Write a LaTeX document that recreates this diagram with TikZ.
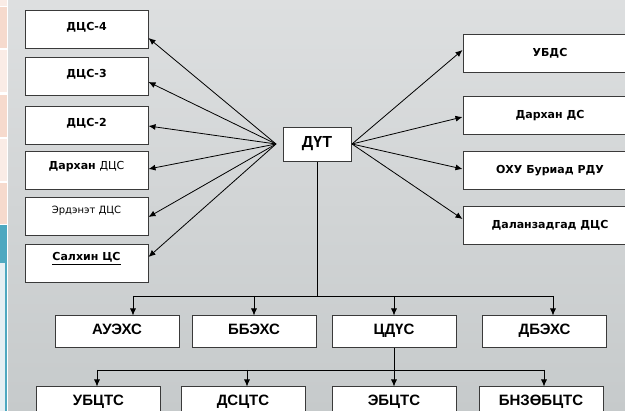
\documentclass[tikz,border=0pt]{standalone}
\usepackage{fontspec}
\setmainfont{DejaVu Sans}
\newfontfamily\arialf{Liberation Sans}
\usetikzlibrary{arrows.meta}
\definecolor{bgtop}{HTML}{DDDFE0}
\definecolor{bgbot}{HTML}{C6CACB}
\definecolor{pinkA}{HTML}{F6DACD}
\definecolor{pinkB}{HTML}{FAECE6}
\definecolor{tealA}{HTML}{4EA8C0}
\definecolor{blueL}{HTML}{E5EFF3}
\definecolor{boxline}{HTML}{3A3A3A}
\tikzset{
  box/.style={draw=boxline, line width=1pt, fill=white, inner sep=0pt,
    text height=9pt, text depth=3pt, align=center},
  lbox/.style={box, minimum width=123pt, minimum height=38pt, font=\fontsize{11}{13}\selectfont\bfseries},
  rbox/.style={box, minimum width=174pt, minimum height=38pt, font=\fontsize{11}{13}\selectfont\bfseries},
  sbox/.style={box, minimum width=124pt, minimum height=32pt, font=\arialf\fontsize{15}{17}\selectfont\bfseries},
  arr/.style={draw=black, line width=0.8pt, -{Latex[length=7pt,width=6pt]}},
  ln/.style={draw=black, line width=0.8pt}
}
\begin{document}
\begin{tikzpicture}[x=1pt,y=-1pt]
\useasboundingbox (0,0) rectangle (625,411);
\clip (0,0) rectangle (625,411);
% background
\shade[top color=bgtop, bottom color=bgbot] (0,0) rectangle (625,411);
\fill[white] (0,0) rectangle (8,411);
\fill[pinkB] (0,0) rectangle (7,6);
\fill[pinkA] (0,7) rectangle (7,48);
\fill[pinkB] (0,50) rectangle (7,92);
\fill[pinkA] (0,95) rectangle (7,137);
\fill[pinkB] (0,139) rectangle (7,181);
\fill[pinkA] (0,183) rectangle (7,224);
\fill[tealA] (0,225) rectangle (7,263);
\fill[blueL] (0,263) rectangle (5,411);
\fill[tealA] (5,263) rectangle (7,411);

% centre
\node[box, minimum width=68pt, minimum height=34pt, font=\arialf\fontsize{16}{18}\selectfont\bfseries] (dut) at (317,145) {ДҮТ};
\coordinate (hl) at (276,144);
\coordinate (hr) at (352,144);

% left boxes
\node[lbox] (d4) at (86.5,30) {\raisebox{2pt}{ДЦС-4}};
\node[lbox] (d3) at (86.5,76.5) {\raisebox{1.5pt}{ДЦС-3}};
\node[lbox] (d2) at (86.5,126) {\raisebox{2pt}{ДЦС-2}};
\node[lbox] (dk) at (86.5,171) {\raisebox{4pt}{Дархан \mdseries ДЦС}};
\node[lbox, font=\fontsize{10}{12}\selectfont] (er) at (86.5,217) {\raisebox{6pt}{Эрдэнэт ДЦС}};
\node[lbox] (sl) at (86.5,264) {\raisebox{6pt}{\underline{Салхин ЦС}}};

% right boxes
\node[rbox] (ub) at (550,54) {УБДС};
\node[rbox] (dd) at (550,115.5) {Дархан ДС};
\node[rbox] (ok) at (550,171) {ОХУ Буриад РДУ};
\node[rbox] (dl) at (550,225.5) {Даланзадгад ДЦС};

% arrows to left
\draw[arr] (hl) -- ([yshift=-8pt]d4.east);
\draw[arr] (hl) -- ([yshift=-5.5pt]d3.east);
\draw[arr] (hl) -- (d2.east);
\draw[arr] (hl) -- ([yshift=2pt]dk.east);
\draw[arr] (hl) -- (er.east);
\draw[arr] (hl) -- ([yshift=7pt]sl.east);
% arrows to right
\draw[arr] (hr) -- ([yshift=4pt]ub.west);
\draw[arr] (hr) -- ([yshift=-1.5pt]dd.west);
\draw[arr] (hr) -- ([yshift=2pt]ok.west);
\draw[arr] (hr) -- ([yshift=6.5pt]dl.west);

% second row
\node[sbox] (au) at (117,332) {АУЭХС};
\node[sbox] (bb) at (254,332) {ББЭХС};
\node[sbox] (cd) at (394,332) {ЦДҮС};
\node[sbox] (db) at (544.5,332) {ДБЭХС};
\coordinate (b1) at (133,296);
\coordinate (b4) at (553,296);
\draw[ln] (dut.south) -- (dut.south |- b1);
\draw[ln] (b1) -- (b4);
\draw[arr] (b1) -- (b1 |- au.north);
\draw[arr] (bb.north |- b1) -- (bb.north);
\draw[arr] (cd.north |- b1) -- (cd.north);
\draw[arr] (b4) -- (b4 |- db.north);

% third row
\node[sbox] (ubc) at (98.5,403) {УБЦТС};
\node[sbox] (dsc) at (243,403) {ДСЦТС};
\node[sbox] (ebc) at (394,403) {ЭБЦТС};
\node[sbox] (bnc) at (541,403) {БНЗӨБЦТС};
\coordinate (c1) at (97,370);
\coordinate (c2) at (247,370);
\coordinate (c4) at (544,370);
\draw[ln] (cd.south) -- (cd.south |- c1);
\draw[ln] (c1) -- (c4);
\draw[arr] (c1) -- (c1 |- ubc.north);
\draw[arr] (c2) -- (c2 |- dsc.north);
\draw[arr] (ebc.north |- c1) -- (ebc.north);
\draw[arr] (c4) -- (c4 |- bnc.north);
\end{tikzpicture}
\end{document}
